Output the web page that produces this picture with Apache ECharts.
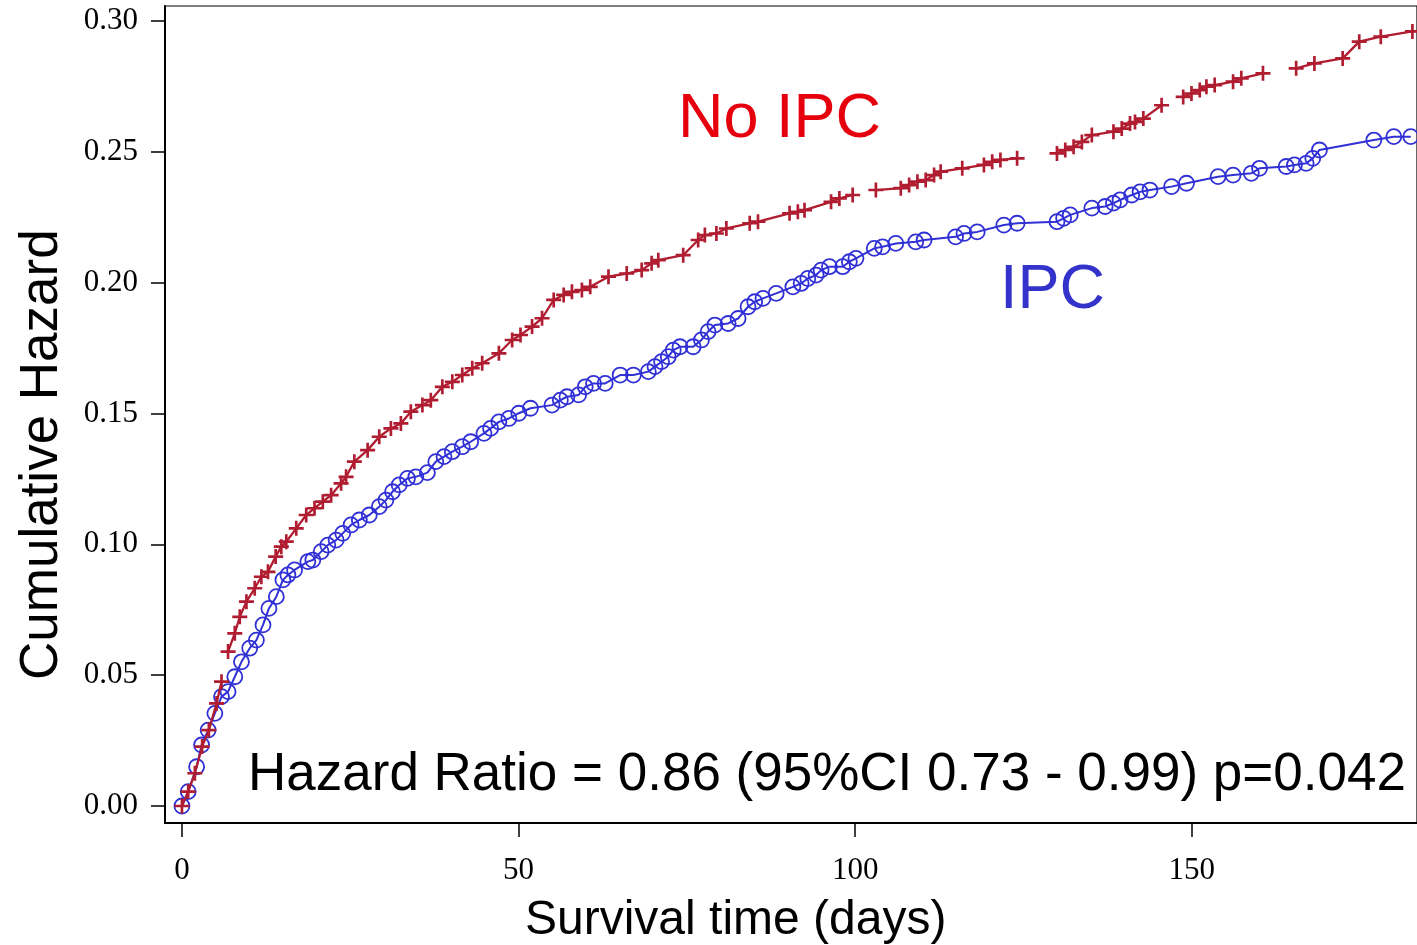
<!DOCTYPE html>
<html>
<head>
<meta charset="utf-8">
<script src="https://cdn.jsdelivr.net/npm/echarts@6/dist/echarts.min.js"></script>
<style>
html,body{margin:0;padding:0;background:#fff;}
#chart{width:1417px;height:945px;}
</style>
</head>
<body>
<div id="chart"></div>
<script>
// ---- Data ----
const xTickValues = [0, 50, 100, 150];
const yTickValues = [0, 0.05, 0.10, 0.15, 0.20, 0.25, 0.30];

// No IPC (null marks a gap in the drawn line)
const noIpcTime = [0, 0.93, 1.92, 3.0, 4.0, 5.14, 5.88, null, 6.85, 7.85, 8.59, 9.58, 10.81, 11.80, 12.78, 13.92, 14.76, 15.50, 16.98, 18.46, 19.69, 20.92, 22.16, 23.64, 24.38, 25.61, 27.58, 29.31, 31.04, 32.52, 34.00, 35.72, 36.97, 38.68, 40.16, 41.64, 43.12, 44.60, 47.08, 49.05, 50.29, 52.01, 53.49, 55.22, 56.70, 57.93, 59.41, 60.65, 63.36, 66.07, 68.29, 69.77, 70.76, 74.46, 76.68, 77.68, 79.39, 80.87, 84.34, 85.57, 90.26, 91.49, 92.48, 96.42, 97.66, 99.63, null, 103.08, 106.78, 108.02, 109.25, 110.48, 111.72, 112.70, 115.91, 119.13, 120.36, 121.58, 124.06, null, 129.98, 131.21, 132.45, 133.68, 135.16, 138.37, 139.60, 140.83, 141.57, 142.81, 145.52, null, 148.73, 149.96, 151.19, 152.18, 153.41, 156.14, 157.36, 160.58, null, 165.51, 168.22, 172.42, 174.88, 178.08, 182.78];
const noIpcHazard = [0, 0.0055, 0.0125, 0.0227, 0.0290, 0.0392, 0.0475, null, 0.0590, 0.0660, 0.0723, 0.0781, 0.0832, 0.0876, 0.0895, 0.0953, 0.0991, 0.1010, 0.1061, 0.1112, 0.1138, 0.1163, 0.1188, 0.1233, 0.1258, 0.1316, 0.1360, 0.1411, 0.1443, 0.1462, 0.1507, 0.1532, 0.1551, 0.1602, 0.1621, 0.1647, 0.1673, 0.1692, 0.1730, 0.1781, 0.1800, 0.1832, 0.1864, 0.1934, 0.1953, 0.1965, 0.1972, 0.1984, 0.2023, 0.2035, 0.2048, 0.2074, 0.2086, 0.2105, 0.2163, 0.2182, 0.2188, 0.2207, 0.2227, 0.2233, 0.2265, 0.2271, 0.2277, 0.2309, 0.2322, 0.2335, null, 0.2354, 0.2361, 0.2373, 0.2386, 0.2392, 0.2411, 0.2424, 0.2437, 0.2450, 0.2462, 0.2469, 0.2475, null, 0.2494, 0.2507, 0.2519, 0.2538, 0.2564, 0.2577, 0.2589, 0.2608, 0.2614, 0.2627, 0.2678, null, 0.2710, 0.2723, 0.2736, 0.2749, 0.2755, 0.2768, 0.2781, 0.2800, null, 0.2819, 0.2838, 0.2857, 0.2921, 0.2940, 0.2960];

// IPC
const ipcTime = [0, 0.93, 2.18, 2.92, 3.89, 4.89, 5.88, 6.85, 7.85, 8.84, 10.07, 11.06, 12.04, 12.92, 14.02, 15.00, 15.74, 16.73, 18.70, 19.44, 20.68, 21.66, 22.90, 23.88, 25.12, 26.35, 27.83, 29.31, 30.30, 31.28, 32.27, 33.50, 34.74, 36.46, 37.71, 38.93, 40.16, 41.64, 42.89, 44.86, 45.85, 47.08, 48.56, 50.04, 51.77, 54.97, 56.21, 57.19, 58.92, 59.91, 61.14, 62.87, 65.09, 67.06, 69.28, 70.27, 71.25, 72.24, 72.98, 73.98, 75.94, 77.17, 78.16, 79.16, 81.13, 82.61, 84.09, 85.08, 86.31, 88.27, 90.75, 91.98, 92.97, 94.20, 94.94, 96.18, 98.15, 99.14, 100.12, 102.84, 104.07, 106.04, 109.00, 110.24, 114.92, 116.17, 118.13, 122.09, 124.06, 129.98, 130.97, 131.95, 135.16, 137.13, 138.37, 139.35, 141.08, 142.32, 143.79, 147.00, 149.22, 153.91, 156.14, 158.85, 160.07, 164.03, 165.26, 166.99, 167.98, 168.97, 177.05, 180.01, 182.53];
const ipcHazard = [0, 0.0055, 0.0150, 0.0233, 0.0290, 0.0354, 0.0418, 0.0437, 0.0494, 0.0551, 0.0603, 0.0634, 0.0692, 0.0755, 0.0800, 0.0864, 0.0883, 0.0902, 0.0934, 0.0940, 0.0972, 0.0997, 0.1016, 0.1042, 0.1074, 0.1093, 0.1112, 0.1144, 0.1169, 0.1201, 0.1227, 0.1252, 0.1258, 0.1274, 0.1316, 0.1335, 0.1354, 0.1373, 0.1392, 0.1424, 0.1443, 0.1468, 0.1481, 0.1501, 0.1520, 0.1532, 0.1551, 0.1564, 0.1571, 0.1602, 0.1615, 0.1615, 0.1647, 0.1647, 0.1660, 0.1679, 0.1698, 0.1717, 0.1742, 0.1755, 0.1755, 0.1781, 0.1813, 0.1838, 0.1844, 0.1863, 0.1908, 0.1927, 0.1940, 0.1959, 0.1984, 0.1997, 0.2016, 0.2029, 0.2048, 0.2061, 0.2061, 0.2080, 0.2093, 0.2131, 0.2137, 0.2150, 0.2156, 0.2163, 0.2175, 0.2188, 0.2194, 0.2220, 0.2227, 0.2233, 0.2246, 0.2259, 0.2285, 0.2291, 0.2304, 0.2316, 0.2335, 0.2347, 0.2354, 0.2367, 0.2380, 0.2405, 0.2411, 0.2418, 0.2437, 0.2444, 0.2450, 0.2456, 0.2475, 0.2507, 0.2545, 0.2558, 0.2558];

const xAxisTitle = 'Survival time (days)';
const yAxisTitle = 'Cumulative Hazard';
const labelNoIpc = 'No IPC';
const labelIpc = 'IPC';
const hrText = 'Hazard Ratio = 0.86 (95%CI 0.73 - 0.99) p=0.042';

// ---- Build ----
function pairs(t, h) {
  return t.map((v, i) => (v === null || h[i] === null) ? [null, '-'] : [v, h[i]]);
}
const RED = '#b01c30';
const BLUE = '#3030d6';
const plusPath = 'path://M-1.25,-7 H1.25 V-1.25 H7 V1.25 H1.25 V7 H-1.25 V1.25 H-7 V-1.25 H-1.25 Z';

const chart = echarts.init(document.getElementById('chart'), null, {renderer: 'canvas'});
chart.setOption({
  backgroundColor: '#ffffff',
  animation: false,
  grid: {left: 165, top: 6, right: -4, bottom: 122, show: true, borderColor: '#000', borderWidth: 1.2, backgroundColor: 'transparent'},
  xAxis: {
    type: 'value', min: -2.517, max: 183.46,
    axisLine: {show: true, onZero: false, lineStyle: {color: '#000', width: 2}},
    axisTick: {show: true, customValues: xTickValues, length: 14, lineStyle: {color: '#000', width: 1.5}},
    axisLabel: {customValues: xTickValues, margin: 32, fontFamily: 'Liberation Serif', fontSize: 31, color: '#000', formatter: v => String(v)},
    splitLine: {show: false}
  },
  yAxis: {
    type: 'value', min: -0.0065, max: 0.30573,
    axisLine: {show: true, onZero: false, lineStyle: {color: '#000', width: 2}},
    axisTick: {show: true, customValues: yTickValues, length: 14, lineStyle: {color: '#000', width: 1.5}},
    axisLabel: {customValues: yTickValues, margin: 27, fontFamily: 'Liberation Serif', fontSize: 31, color: '#000', formatter: v => v.toFixed(2)},
    splitLine: {show: false}
  },
  series: [
    {
      name: 'No IPC', type: 'line', data: pairs(noIpcTime, noIpcHazard),
      connectNulls: false, showAllSymbol: true,
      symbol: plusPath, symbolSize: 15,
      lineStyle: {color: RED, width: 2.3},
      itemStyle: {color: RED},
      z: 3
    },
    {
      name: 'IPC', type: 'line', data: pairs(ipcTime, ipcHazard),
      showAllSymbol: true,
      symbol: 'circle', symbolSize: 15,
      lineStyle: {color: BLUE, width: 2},
      itemStyle: {color: 'rgba(0,0,0,0)', borderColor: BLUE, borderWidth: 1.8},
      z: 2
    }
  ],
  graphic: [
    {type: 'text', left: 678, top: 88, style: {text: labelNoIpc, fill: '#e6000e', fontFamily: 'Liberation Sans', fontSize: 63}},
    {type: 'text', left: 1000, top: 259, style: {text: labelIpc, fill: '#3333cc', fontFamily: 'Liberation Sans', fontSize: 63}},
    {type: 'text', left: 248, top: 749, style: {text: hrText, fill: '#000', fontFamily: 'Liberation Sans', fontSize: 53}},
    {type: 'text', left: 525, top: 897, style: {text: xAxisTitle, fill: '#000', fontFamily: 'Liberation Sans', fontSize: 48}},
    {type: 'text', x: 16, y: 680, rotation: Math.PI / 2, style: {text: yAxisTitle, fill: '#000', fontFamily: 'Liberation Sans', fontSize: 53, textVerticalAlign: 'top'}}
  ]
});
</script>
</body>
</html>
